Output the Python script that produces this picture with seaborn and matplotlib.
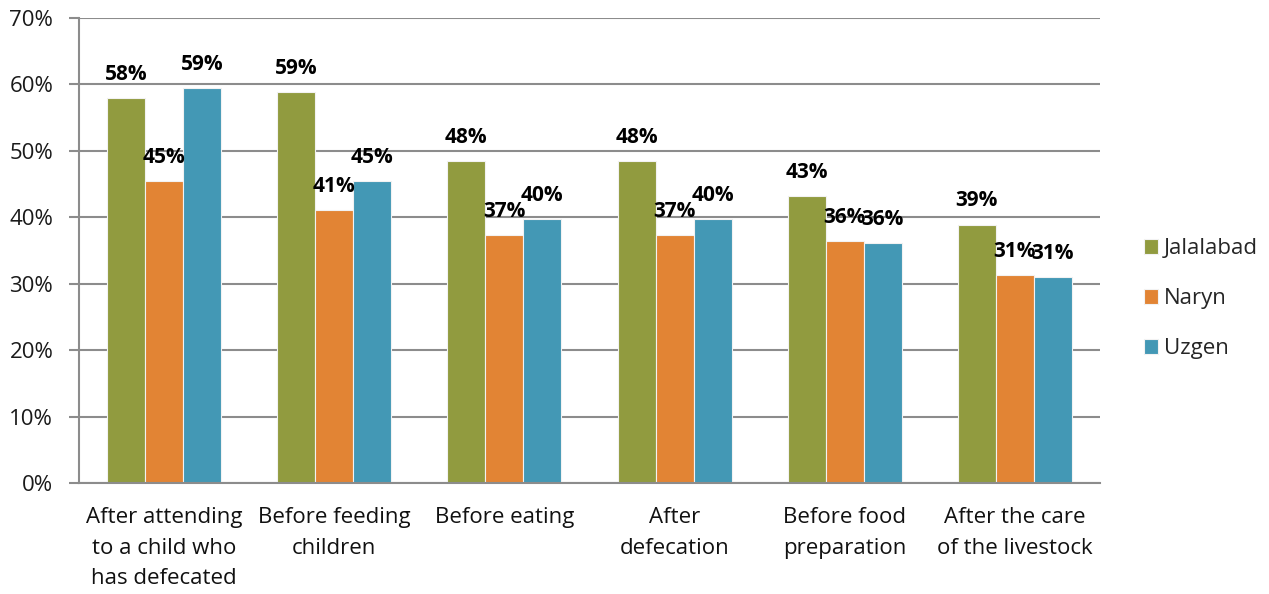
import matplotlib
matplotlib.use("Agg")
import matplotlib.pyplot as plt
import seaborn as sns
import pandas as pd
import numpy as np

categories = [
    "After attending\nto a child who\nhas defecated",
    "Before feeding\nchildren",
    "Before eating",
    "After\ndefecation",
    "Before food\npreparation",
    "After the care\nof the livestock",
]
regions = ["Jalalabad", "Naryn", "Uzgen"]
jalalabad = [57.9, 58.8, 48.4, 48.4, 43.2, 38.9]
naryn = [45.4, 41.1, 37.3, 37.3, 36.4, 31.3]
uzgen = [59.4, 45.4, 39.7, 39.7, 36.1, 31.0]
yticks = [0, 10, 20, 30, 40, 50, 60, 70]
colors = ["#919B3F", "#E28434", "#4398B5"]

df = pd.DataFrame({
    "category": categories * 3,
    "region": [r for r in regions for _ in categories],
    "value": jalalabad + naryn + uzgen,
})

sns.set_theme(style="white")
plt.rcParams["font.family"] = ["Open Sans", "DejaVu Sans"]

fig = plt.figure(figsize=(12.69, 5.94), dpi=100)
ax = fig.add_axes([79 / 1269, 1 - 483 / 594, (1100 - 79) / 1269, (483 - 18) / 594])

sns.barplot(data=df, x="category", y="value", hue="region", order=categories,
            hue_order=regions, palette=colors, width=0.67, saturation=1,
            edgecolor="#F2F2F2", linewidth=0.8, ax=ax)

ax.set_xlim(-0.5, len(categories) - 0.5)
ax.set_ylim(0, 70)
ax.set_yticks(yticks)
ax.set_yticklabels([f"{t}%" for t in yticks], fontsize=16, color="#1A1A1A")
ax.yaxis.grid(True, color="#8C8C8C", linewidth=1.5)
ax.set_axisbelow(True)
ax.set_xlabel("")
ax.set_ylabel("")

# Category labels centred under each group, tick marks between groups
ax.set_xticks(range(len(categories)))
ax.set_xticklabels(categories, fontsize=16, color="#111111", linespacing=1.62)
ax.tick_params(axis="x", which="major", length=0, pad=17)
ax.set_xticks(np.arange(-0.5, len(categories)), minor=True)
ax.tick_params(axis="x", which="minor", length=7, width=1.5, color="#8C8C8C")
ax.tick_params(axis="y", length=7, width=1.5, color="#8C8C8C", left=True, pad=11.5)

for side in ["top", "right"]:
    ax.spines[side].set_visible(False)
for side in ["left", "bottom"]:
    ax.spines[side].set_color("#8C8C8C")
    ax.spines[side].set_linewidth(1.5)

# Value labels above each bar
for container, vals in zip(ax.containers, [jalalabad, naryn, uzgen]):
    for patch, v in zip(container.patches, vals):
        cx = patch.get_x() + patch.get_width() / 2
        ax.annotate(f"{round(v)}%", (cx, v), xytext=(0, 17), textcoords="offset points",
                    ha="center", va="center", fontsize=15, fontweight="bold", color="black")

handles, labels = ax.get_legend_handles_labels()
ax.legend(handles, labels, loc="center left", bbox_to_anchor=(1.0235, 0.396),
          frameon=False, fontsize=16, handlelength=0.63, handleheight=0.63,
          handletextpad=0.27, labelspacing=1.3)

fig.savefig("out.png", dpi=100)
